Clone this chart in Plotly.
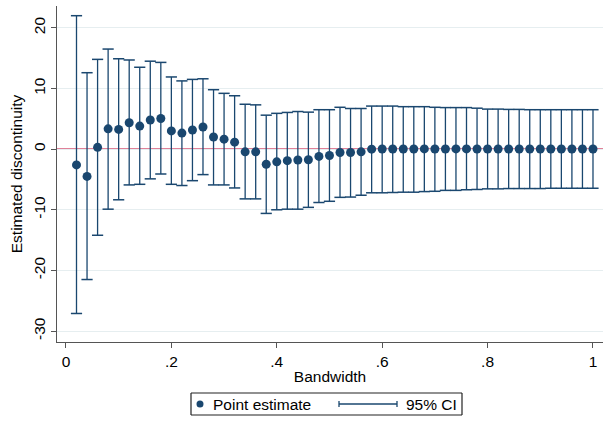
import plotly.graph_objects as go

bandwidth = [round(0.02 * i, 2) for i in range(1, 51)]

estimate = [-2.6, -4.5, 0.3, 3.35, 3.25, 4.35, 3.8, 4.8, 5.05, 3.0,
            2.65, 3.15, 3.65, 2.0, 1.65, 1.15, -0.45, -0.45, -2.5, -2.1,
            -1.9, -1.8, -1.75, -1.2, -1.05, -0.55, -0.55, -0.45, 0.0, 0.02,
            0.02, 0.03, 0.03, 0.04, 0.03, 0.03, 0.04, 0.04, 0.03, 0.03,
            0.03, 0.03, 0.03, 0.03, 0.02, 0.02, 0.02, 0.02, 0.02, 0.02]

ci_high = [22.0, 12.6, 14.8, 16.5, 14.9, 14.7, 13.5, 14.5, 14.3, 11.9,
           11.25, 11.5, 11.6, 9.8, 9.2, 8.8, 7.4, 7.3, 5.6, 5.9,
           6.05, 6.2, 6.1, 6.5, 6.5, 6.9, 6.7, 6.7, 7.1, 7.1,
           7.1, 7.0, 7.0, 7.0, 6.9, 6.85, 6.85, 6.85, 6.75, 6.6,
           6.6, 6.55, 6.55, 6.5, 6.5, 6.5, 6.5, 6.5, 6.5, 6.5]

ci_low = [-27.1, -21.5, -14.2, -9.9, -8.35, -5.9, -5.8, -4.9, -4.1, -5.8,
          -6.0, -5.2, -4.2, -5.9, -5.9, -6.4, -8.2, -8.2, -10.6, -10.0,
          -9.9, -9.9, -9.6, -8.8, -8.6, -7.95, -7.9, -7.6, -7.2, -7.2,
          -7.15, -7.1, -7.1, -7.0, -6.95, -6.8, -6.8, -6.7, -6.65, -6.55,
          -6.55, -6.5, -6.5, -6.5, -6.5, -6.45, -6.45, -6.45, -6.45, -6.45]

x_ticks = [0, 0.2, 0.4, 0.6, 0.8, 1]
x_ticklabels = ["0", ".2", ".4", ".6", ".8", "1"]
y_ticks = [-30, -20, -10, 0, 10, 20]
y_ticklabels = ["-30", "-20", "-10", "0", "10", "20"]
legend_labels = ["Point estimate", "95% CI"]

NAVY = "#1a476f"
FONT = "Liberation Sans, Arial, sans-serif"
FS = 15.5

W, H = 611, 425
ML, MR, MT, MB = 57, 8, 6, 83
PW, PH = W - ML - MR, H - MT - MB


def px(xp):  # screen x pixel -> paper
    return (xp - ML) / PW


def py(yp):  # screen y pixel -> paper
    return (H - MB - yp) / PH


# vertical CI segments
seg_x, seg_y = [], []
for b, lo, hi in zip(bandwidth, ci_low, ci_high):
    seg_x += [b, b, None]
    seg_y += [lo, hi, None]

fig = go.Figure()

fig.add_trace(go.Scatter(
    x=seg_x, y=seg_y, mode="lines", name=legend_labels[1],
    line=dict(color=NAVY, width=1.3), hoverinfo="skip"))

fig.add_trace(go.Scatter(
    x=bandwidth + bandwidth, y=ci_low + ci_high, mode="markers",
    marker=dict(symbol="line-ew", size=8, line=dict(color=NAVY, width=1.5)),
    hoverinfo="skip"))

fig.add_trace(go.Scatter(
    x=bandwidth, y=estimate, mode="markers", name=legend_labels[0],
    marker=dict(color=NAVY, size=9)))

fig.add_hline(y=0, line=dict(color="#c10534", width=1.4), layer="below")


def seg(x0, y0, x1, y1, color, width):
    return dict(type="line", xref="paper", yref="paper", layer="above",
                x0=px(x0), x1=px(x1), y0=py(y0), y1=py(y1),
                line=dict(color=color, width=width))


# manual Stata-style legend box
L, R, T, B = 191, 462, 393, 415
shapes = [
    dict(type="rect", xref="paper", yref="paper", layer="above",
         x0=px(L), x1=px(R), y0=py(B), y1=py(T),
         line=dict(color="#222222", width=1.2), fillcolor="rgba(0,0,0,0)"),
    seg(L, T, R, T, "#222222", 1.2),
    seg(L, B, R, B, "#222222", 1.2),
    seg(L, T, L, B, "#222222", 1.2),
    seg(R, T, R, B, "#222222", 1.2),
    dict(type="circle", xref="paper", yref="paper", layer="above",
         x0=px(196.5), x1=px(203.5), y0=py(407.5), y1=py(400.5),
         line=dict(color=NAVY, width=0), fillcolor=NAVY),
    seg(339, 404, 397, 404, NAVY, 1.3),
    seg(339, 401, 339, 407, NAVY, 1.3),
    seg(397, 401, 397, 407, NAVY, 1.3),
]
annotations = [
    dict(text=legend_labels[0], xref="paper", yref="paper", x=px(211), y=py(404),
         xanchor="left", yanchor="middle", showarrow=False,
         font=dict(family=FONT, size=FS, color="black")),
    dict(text=legend_labels[1], xref="paper", yref="paper", x=px(404), y=py(404),
         xanchor="left", yanchor="middle", showarrow=False,
         font=dict(family=FONT, size=FS, color="black")),
]

fig.update_layout(
    width=W, height=H,
    paper_bgcolor="white", plot_bgcolor="white",
    margin=dict(l=ML, r=MR, t=MT, b=MB, autoexpand=False),
    font=dict(family=FONT, size=FS, color="black"),
    showlegend=False,
    shapes=shapes, annotations=annotations,
    xaxis=dict(
        range=[-0.017, 1.019], tickvals=x_ticks, ticktext=x_ticklabels,
        automargin=False,
        showgrid=False, zeroline=False, showline=True, linecolor="#555555",
        linewidth=1, ticks="outside", ticklen=5, tickcolor="#555555",
        title=dict(text="Bandwidth", font=dict(size=FS), standoff=2),
        tickfont=dict(size=FS)),
    yaxis=dict(
        range=[-31.8, 23.6], tickvals=y_ticks, ticktext=y_ticklabels,
        tickangle=-90, automargin=False,
        showgrid=True, gridcolor="#e6eef0", gridwidth=1,
        zeroline=False, showline=True, linecolor="#555555", linewidth=1,
        ticks="outside", ticklen=5, tickcolor="#555555",
        title=dict(text="Estimated discontinuity", font=dict(size=FS), standoff=4),
        tickfont=dict(size=FS)),
)

fig.write_html("out.html", config={"displayModeBar": False},
               post_script="document.body.style.margin='0';document.body.style.overflow='hidden';")
